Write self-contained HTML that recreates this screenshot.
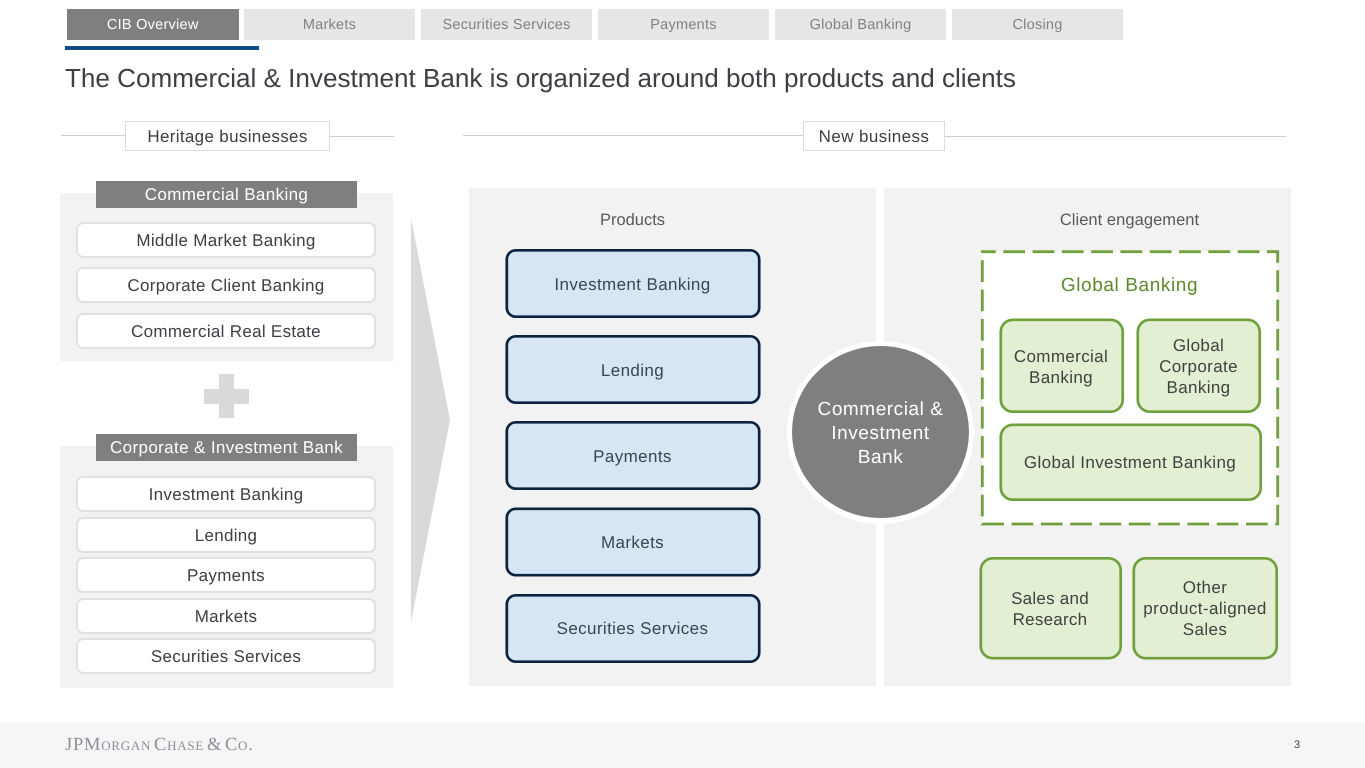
<!DOCTYPE html>
<html><head><meta charset="utf-8"><style>
html,body{margin:0;padding:0;background:#fff}
body{width:1365px;height:768px;position:relative;overflow:hidden;font-family:"Liberation Sans",sans-serif;color:#3c3f44;text-rendering:geometricPrecision}
.a{position:absolute;box-sizing:border-box;display:flex;align-items:center;justify-content:center;text-align:center;white-space:nowrap}
.tab{top:9px;height:31px;width:171px;background:#e6e6e6;color:#808080;font-size:14.5px;letter-spacing:.25px;padding-top:1px}
.p{background:#f2f2f2}
.h{background:#7f7f7f;color:#fff;font-size:17px;letter-spacing:.37px;left:96px;width:261px;height:27px}
.w{left:76px;width:300px;background:#fff;border:2px solid #e0e0e0;border-radius:7px;font-size:17px;letter-spacing:.3px;height:36px;padding-top:2px}
.b{left:505px;width:255px;height:69px;font-size:17px;letter-spacing:.38px;color:#3a4654;padding-top:2px}
.g{font-size:17px;letter-spacing:.36px;line-height:21px;color:#3c4440;padding-top:1px}
.l{position:absolute;height:1px;background:#cfcfcf}
.t{background:#fff;border:1px solid #dcdcdc;font-size:17px;letter-spacing:.33px;height:30px;top:121px;padding-top:1px}
svg{position:absolute;left:0;top:0}
.br rect{fill:#d6e6f4;stroke:#0c2340;stroke-width:2.7}
.gr rect{fill:#e3efd3;stroke:#70a03c;stroke-width:2.7}
</style></head><body>
<div class="a tab" style="left:67px;width:171.5px;background:#7f7f7f;color:#fff">CIB Overview</div>
<div class="a tab" style="left:244px">Markets</div>
<div class="a tab" style="left:421px">Securities Services</div>
<div class="a tab" style="left:598px">Payments</div>
<div class="a tab" style="left:775px">Global Banking</div>
<div class="a tab" style="left:952px">Closing</div>
<div class="a" style="left:65px;top:46px;width:194px;height:4px;background:#0f4c7f"></div>
<div class="a" style="left:65px;top:61px;height:34px;font-size:26.08px;color:#3c3f44;justify-content:flex-start">The Commercial &amp; Investment Bank is organized around both products and clients</div>

<div class="l" style="left:61px;top:135px;width:64px"></div>
<div class="l" style="left:330px;top:136px;width:64px"></div>
<div class="a t" style="left:125px;width:205px">Heritage businesses</div>
<div class="l" style="left:463px;top:135px;width:341px"></div>
<div class="l" style="left:945px;top:136px;width:341px"></div>
<div class="a t" style="left:803px;width:142px;letter-spacing:.4px">New business</div>

<div class="a p" style="left:60px;top:193px;width:333px;height:168px"></div>
<div class="a h" style="top:181px">Commercial Banking</div>
<div class="a w" style="top:222px">Middle Market Banking</div>
<div class="a w" style="top:267px">Corporate Client Banking</div>
<div class="a w" style="top:313px">Commercial Real Estate</div>

<div class="a" style="left:219px;top:374px;width:15px;height:44px;background:#d9d9d9"></div>
<div class="a" style="left:204px;top:389px;width:45px;height:15px;background:#d9d9d9"></div>

<div class="a p" style="left:60px;top:446px;width:333px;height:242px"></div>
<div class="a h" style="top:434px">Corporate &amp; Investment Bank</div>
<div class="a w" style="top:476px">Investment Banking</div>
<div class="a w" style="top:517px">Lending</div>
<div class="a w" style="top:557px">Payments</div>
<div class="a w" style="top:598px">Markets</div>
<div class="a w" style="top:638px">Securities Services</div>

<svg width="1365" height="768"><polygon points="411,218 450,420 411,622" fill="#d9d9d9"/></svg>

<div class="a p" style="left:469px;top:188px;width:407px;height:498px"></div>
<div class="a p" style="left:884px;top:188px;width:407px;height:498px"></div>
<div class="a" style="left:469px;top:210px;width:327px;height:20px;font-size:16.5px;color:#595959">Products</div>
<div class="a" style="left:969px;top:210px;width:321px;height:20px;font-size:16.5px;letter-spacing:.05px;color:#595959">Client engagement</div>

<svg class="br" width="1365" height="768">
<rect x="506.8" y="250.3" width="252.4" height="66.4" rx="9"/>
<rect x="506.8" y="336.3" width="252.4" height="66.4" rx="9"/>
<rect x="506.8" y="422.3" width="252.4" height="66.4" rx="9"/>
<rect x="506.8" y="508.8" width="252.4" height="66.4" rx="9"/>
<rect x="506.8" y="595.3" width="252.4" height="66.4" rx="9"/>
</svg>
<div class="a b" style="top:249px">Investment Banking</div>
<div class="a b" style="top:335px">Lending</div>
<div class="a b" style="top:421px">Payments</div>
<div class="a b" style="top:507px">Markets</div>
<div class="a b" style="top:593px">Securities Services</div>

<div class="a" style="left:787px;top:341px;width:187px;height:183px;border-radius:50%;background:#fff"></div>
<div class="a" style="left:792px;top:346px;width:177px;height:172px;border-radius:50%;background:#7f7f7f;color:#fff;font-size:19px;letter-spacing:.55px;line-height:24px;padding-top:3px">Commercial &amp;<br>Investment<br>Bank</div>

<svg width="1365" height="768"><rect x="982.3" y="251.7" width="295.4" height="272.3" fill="#fff" stroke="#70a03c" stroke-width="2.8" stroke-dasharray="21.7 7.6" stroke-dashoffset="8.3"/></svg>
<svg class="gr" width="1365" height="768">
<rect x="1000.8" y="319.8" width="121.9" height="91.9" rx="12"/>
<rect x="1137.8" y="319.8" width="121.9" height="91.9" rx="12"/>
<rect x="1000.8" y="424.8" width="259.9" height="74.9" rx="12"/>
<rect x="980.8" y="558.3" width="139.9" height="99.9" rx="12"/>
<rect x="1133.8" y="558.3" width="142.9" height="99.9" rx="12"/>
</svg>
<div class="a" style="left:982px;top:275px;width:295px;height:22px;font-size:19px;letter-spacing:.6px;color:#5b8a2d">Global Banking</div>
<div class="a g" style="left:999px;top:319px;width:124px;height:95px">Commercial<br>Banking</div>
<div class="a g" style="left:1136px;top:318px;width:125px;height:95px">Global<br>Corporate<br>Banking</div>
<div class="a g" style="left:999px;top:423px;width:262px;height:78px">Global Investment Banking</div>
<div class="a g" style="left:979px;top:557px;width:142px;height:103px;letter-spacing:.25px">Sales and<br>Research</div>
<div class="a g" style="left:1132px;top:556px;width:146px;height:103px;letter-spacing:.42px">Other<br>product-aligned<br>Sales</div>

<div class="a" style="left:0;top:723px;width:1365px;height:45px;background:#f5f6f8"></div>
<div class="a" style="left:65px;top:735px;height:20px;font-family:'Liberation Serif',serif;font-size:18.5px;color:#8d8f93;letter-spacing:.75px;font-variant:small-caps;justify-content:flex-start;word-spacing:-2.5px">JPMorgan Chase &amp; Co.</div>
<div class="a" style="left:1285px;top:738px;width:24px;height:14px;font-size:11px;color:#3c3f44">3</div>
</body></html>
